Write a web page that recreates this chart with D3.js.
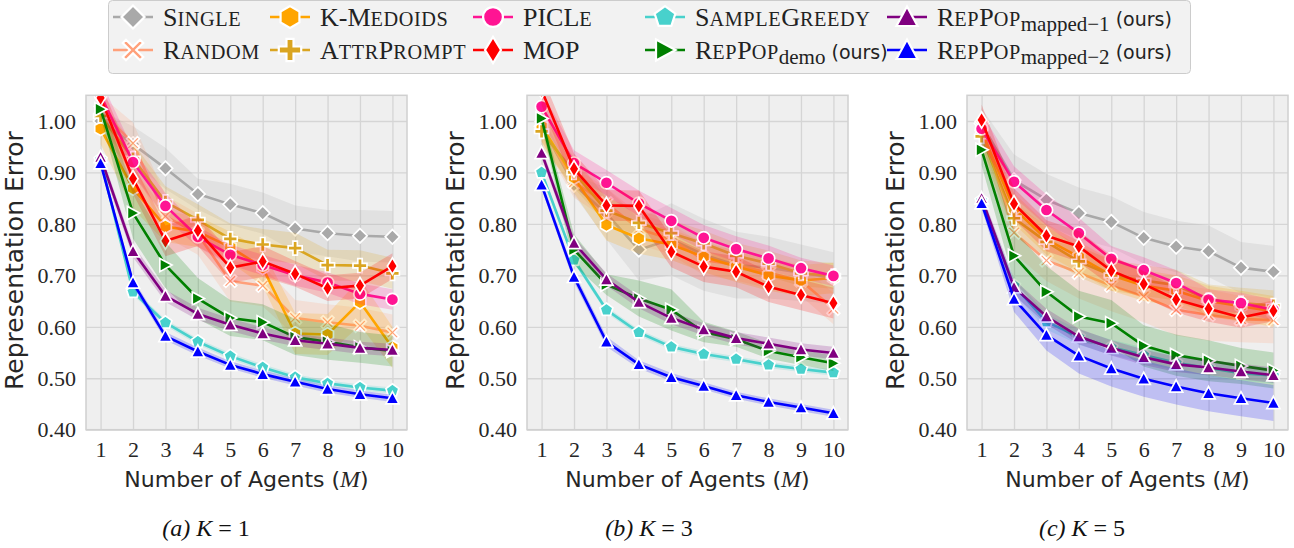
<!DOCTYPE html>
<html>
<head>
<meta charset="utf-8">
<script src="https://cdn.jsdelivr.net/npm/d3@7"></script>
<style>
  body { margin: 0; background: #ffffff; }
  svg { display: block; }
</style>
</head>
<body>
<svg id="chart" width="1294" height="548"></svg>
<script>
// ---------- data ----------
const AGENTS = [1, 2, 3, 4, 5, 6, 7, 8, 9, 10];
const Y_TICKS = [0.40, 0.50, 0.60, 0.70, 0.80, 0.90, 1.00];
const PANEL_LETTERS = ["(a)", "(b)", "(c)"];
const PANEL_K = [1, 3, 5];

// K = 1
const K1_SINGLE   = [1.000, 0.955, 0.908, 0.858, 0.838, 0.821, 0.791, 0.782, 0.777, 0.775];
const K1_RANDOM   = [1.020, 0.957, 0.815, 0.780, 0.689, 0.680, 0.617, 0.609, 0.602, 0.589];
const K1_KMEDOIDS = [0.985, 0.869, 0.795, 0.785, 0.755, 0.715, 0.587, 0.585, 0.648, 0.560];
const K1_ATTR     = [1.010, 0.927, 0.843, 0.808, 0.771, 0.760, 0.753, 0.720, 0.719, 0.704];
const K1_PICLE    = [1.050, 0.920, 0.835, 0.775, 0.740, 0.720, 0.700, 0.686, 0.664, 0.653];
const K1_MOP      = [1.045, 0.888, 0.767, 0.787, 0.715, 0.727, 0.703, 0.675, 0.680, 0.718];
const K1_SGREEDY  = [0.925, 0.668, 0.608, 0.571, 0.543, 0.521, 0.502, 0.490, 0.482, 0.476];
const K1_DEMO     = [1.023, 0.821, 0.720, 0.655, 0.617, 0.609, 0.580, 0.571, 0.560, 0.553];
const K1_MAPPED1  = [0.930, 0.747, 0.660, 0.625, 0.604, 0.587, 0.574, 0.567, 0.559, 0.555];
const K1_MAPPED2  = [0.918, 0.686, 0.582, 0.552, 0.526, 0.508, 0.493, 0.479, 0.469, 0.461];

const K1_SINGLE_CI   = [0.020, 0.035, 0.040, 0.030, 0.040, 0.040, 0.045, 0.045, 0.050, 0.050];
const K1_RANDOM_CI   = [0.030, 0.040, 0.040, 0.040, 0.040, 0.040, 0.035, 0.035, 0.035, 0.035];
const K1_KMEDOIDS_CI = [0.030, 0.040, 0.030, 0.030, 0.030, 0.035, 0.040, 0.040, 0.045, 0.040];
const K1_ATTR_CI     = [0.030, 0.030, 0.030, 0.030, 0.030, 0.030, 0.030, 0.030, 0.030, 0.030];
const K1_PICLE_CI    = [0.030, 0.025, 0.025, 0.020, 0.020, 0.020, 0.020, 0.020, 0.020, 0.020];
const K1_MOP_CI      = [0.030, 0.030, 0.030, 0.030, 0.030, 0.030, 0.025, 0.025, 0.025, 0.025];
const K1_SGREEDY_CI  = [0.006, 0.006, 0.006, 0.006, 0.006, 0.006, 0.006, 0.006, 0.006, 0.006];
const K1_DEMO_CI     = [0.015, 0.050, 0.045, 0.040, 0.035, 0.035, 0.035, 0.035, 0.030, 0.030];
const K1_MAPPED1_CI  = [0.010, 0.012, 0.012, 0.012, 0.012, 0.012, 0.012, 0.012, 0.012, 0.012];
const K1_MAPPED2_CI  = [0.006, 0.008, 0.008, 0.008, 0.007, 0.007, 0.007, 0.007, 0.007, 0.007];

// K = 3
const K3_SINGLE   = [0.990, 0.876, 0.820, 0.750, 0.770, 0.740, 0.720, 0.715, 0.705, 0.695];
const K3_RANDOM   = [0.990, 0.881, 0.840, 0.790, 0.770, 0.730, 0.720, 0.705, 0.690, 0.635];
const K3_KMEDOIDS = [0.990, 0.890, 0.798, 0.772, 0.760, 0.736, 0.717, 0.700, 0.690, 0.695];
const K3_ATTR     = [0.980, 0.900, 0.826, 0.802, 0.782, 0.762, 0.738, 0.723, 0.704, 0.699];
const K3_PICLE    = [1.028, 0.918, 0.880, 0.840, 0.806, 0.773, 0.751, 0.733, 0.714, 0.699];
const K3_MOP      = [1.060, 0.907, 0.836, 0.835, 0.746, 0.717, 0.707, 0.678, 0.662, 0.646];
const K3_SGREEDY  = [0.900, 0.730, 0.633, 0.589, 0.561, 0.547, 0.537, 0.526, 0.518, 0.511];
const K3_DEMO     = [1.005, 0.750, 0.682, 0.655, 0.633, 0.590, 0.576, 0.553, 0.541, 0.529];
const K3_MAPPED1  = [0.938, 0.763, 0.692, 0.648, 0.617, 0.595, 0.578, 0.567, 0.556, 0.549];
const K3_MAPPED2  = [0.876, 0.697, 0.571, 0.527, 0.502, 0.485, 0.467, 0.454, 0.443, 0.432];

const K3_SINGLE_CI   = [0.020, 0.020, 0.050, 0.060, 0.070, 0.070, 0.065, 0.060, 0.055, 0.050];
const K3_RANDOM_CI   = [0.030, 0.030, 0.030, 0.030, 0.030, 0.030, 0.030, 0.030, 0.030, 0.030];
const K3_KMEDOIDS_CI = [0.030, 0.030, 0.030, 0.030, 0.030, 0.030, 0.030, 0.030, 0.030, 0.030];
const K3_ATTR_CI     = [0.030, 0.030, 0.025, 0.025, 0.025, 0.025, 0.025, 0.025, 0.025, 0.025];
const K3_PICLE_CI    = [0.030, 0.025, 0.025, 0.025, 0.025, 0.025, 0.025, 0.025, 0.020, 0.020];
const K3_MOP_CI      = [0.030, 0.030, 0.030, 0.030, 0.030, 0.030, 0.030, 0.030, 0.030, 0.030];
const K3_SGREEDY_CI  = [0.006, 0.006, 0.006, 0.006, 0.006, 0.006, 0.006, 0.006, 0.006, 0.006];
const K3_DEMO_CI     = [0.015, 0.030, 0.020, 0.035, 0.040, 0.020, 0.015, 0.015, 0.015, 0.015];
const K3_MAPPED1_CI  = [0.010, 0.012, 0.012, 0.012, 0.012, 0.012, 0.012, 0.012, 0.012, 0.012];
const K3_MAPPED2_CI  = [0.008, 0.010, 0.010, 0.008, 0.008, 0.007, 0.007, 0.007, 0.007, 0.007];

// K = 5
const K5_SINGLE   = [0.995, 0.885, 0.847, 0.821, 0.804, 0.773, 0.756, 0.747, 0.715, 0.707];
const K5_RANDOM   = [0.990, 0.783, 0.729, 0.705, 0.680, 0.659, 0.633, 0.623, 0.615, 0.613];
const K5_KMEDOIDS = [0.980, 0.830, 0.770, 0.736, 0.700, 0.680, 0.670, 0.650, 0.640, 0.630];
const K5_ATTR     = [0.970, 0.811, 0.765, 0.727, 0.700, 0.690, 0.681, 0.652, 0.646, 0.641];
const K5_PICLE    = [0.985, 0.882, 0.827, 0.782, 0.732, 0.710, 0.685, 0.653, 0.646, 0.633];
const K5_MOP      = [1.002, 0.839, 0.777, 0.756, 0.709, 0.683, 0.653, 0.635, 0.618, 0.631];
const K5_SGREEDY  = [0.845, 0.680, 0.610, 0.580, 0.560, 0.545, 0.530, 0.520, 0.510, 0.505];
const K5_DEMO     = [0.944, 0.738, 0.668, 0.620, 0.607, 0.563, 0.545, 0.534, 0.524, 0.515];
const K5_MAPPED1  = [0.850, 0.677, 0.620, 0.581, 0.559, 0.541, 0.527, 0.521, 0.513, 0.506];
const K5_MAPPED2  = [0.840, 0.654, 0.584, 0.544, 0.519, 0.499, 0.484, 0.471, 0.461, 0.452];

const K5_SINGLE_CI   = [0.030, 0.050, 0.050, 0.050, 0.050, 0.050, 0.050, 0.050, 0.050, 0.050];
const K5_RANDOM_CI   = [0.030, 0.040, 0.040, 0.050, 0.050, 0.050, 0.050, 0.050, 0.045, 0.045];
const K5_KMEDOIDS_CI = [0.030, 0.030, 0.030, 0.030, 0.030, 0.030, 0.030, 0.030, 0.030, 0.030];
const K5_ATTR_CI     = [0.030, 0.030, 0.030, 0.030, 0.030, 0.030, 0.030, 0.030, 0.030, 0.030];
const K5_PICLE_CI    = [0.030, 0.030, 0.030, 0.030, 0.025, 0.025, 0.025, 0.020, 0.020, 0.020];
const K5_MOP_CI      = [0.030, 0.030, 0.030, 0.030, 0.030, 0.025, 0.025, 0.025, 0.020, 0.020];
const K5_SGREEDY_CI  = [0.010, 0.015, 0.015, 0.015, 0.015, 0.015, 0.015, 0.015, 0.015, 0.015];
const K5_DEMO_CI     = [0.030, 0.050, 0.050, 0.050, 0.045, 0.040, 0.040, 0.040, 0.035, 0.035];
const K5_MAPPED1_CI  = [0.010, 0.015, 0.015, 0.015, 0.015, 0.015, 0.015, 0.015, 0.015, 0.015];
const K5_MAPPED2_CI  = [0.010, 0.025, 0.030, 0.035, 0.035, 0.035, 0.035, 0.035, 0.035, 0.035];

// series order (drawing order) and their look
const SERIES_KEYS    = ["single", "random", "kmedoids", "attr", "picle", "mop", "sgreedy", "demo", "mapped1", "mapped2"];
const SERIES_COLORS  = ["#a9a9a9", "#ffa07a", "#ffa500", "#daa520", "#ff1493", "#ff0000", "#48d1cc", "#008000", "#800080", "#0000ff"];
const SERIES_MARKERS = ["D", "X", "h", "P", "o", "d", "p", ">", "^", "^"];

const PANEL_MEANS = [
  [K1_SINGLE, K1_RANDOM, K1_KMEDOIDS, K1_ATTR, K1_PICLE, K1_MOP, K1_SGREEDY, K1_DEMO, K1_MAPPED1, K1_MAPPED2],
  [K3_SINGLE, K3_RANDOM, K3_KMEDOIDS, K3_ATTR, K3_PICLE, K3_MOP, K3_SGREEDY, K3_DEMO, K3_MAPPED1, K3_MAPPED2],
  [K5_SINGLE, K5_RANDOM, K5_KMEDOIDS, K5_ATTR, K5_PICLE, K5_MOP, K5_SGREEDY, K5_DEMO, K5_MAPPED1, K5_MAPPED2]
];
const PANEL_CIS = [
  [K1_SINGLE_CI, K1_RANDOM_CI, K1_KMEDOIDS_CI, K1_ATTR_CI, K1_PICLE_CI, K1_MOP_CI, K1_SGREEDY_CI, K1_DEMO_CI, K1_MAPPED1_CI, K1_MAPPED2_CI],
  [K3_SINGLE_CI, K3_RANDOM_CI, K3_KMEDOIDS_CI, K3_ATTR_CI, K3_PICLE_CI, K3_MOP_CI, K3_SGREEDY_CI, K3_DEMO_CI, K3_MAPPED1_CI, K3_MAPPED2_CI],
  [K5_SINGLE_CI, K5_RANDOM_CI, K5_KMEDOIDS_CI, K5_ATTR_CI, K5_PICLE_CI, K5_MOP_CI, K5_SGREEDY_CI, K5_DEMO_CI, K5_MAPPED1_CI, K5_MAPPED2_CI]
];

// ---------- layout ----------
const SERIF = "'Liberation Serif', 'Times New Roman', serif";
const SANS = "'DejaVu Sans', 'Noto Sans', sans-serif";
const PANEL_LEFTS = [86, 527, 967];
const PANEL_W = 321;
const PLOT_TOP = 95.3, PLOT_BOTTOM = 429.7;
const CAPTION_X = [206, 649, 1082];

const svg = d3.select("#chart");

// ---------- marker shapes ----------
function polygon(n, r, rot) {
  const pts = d3.range(n).map(i => {
    const a = rot + i * 2 * Math.PI / n;
    return [r * Math.cos(a), r * Math.sin(a)];
  });
  return "M" + pts.map(p => p[0].toFixed(2) + "," + p[1].toFixed(2)).join("L") + "Z";
}
function markerPath(type, s) {
  switch (type) {
    case "D": { const r = 7.2 * s; return `M0,${-r}L${r},0L0,${r}L${-r},0Z`; }
    case "d": { const r = 8.2 * s, w = 5.0 * s; return `M0,${-r}L${w},0L0,${r}L${-w},0Z`; }
    case "o": { const r = 6.2 * s; return `M${r},0A${r},${r} 0 1,1 ${-r},0A${r},${r} 0 1,1 ${r},0Z`; }
    case "h": return polygon(6, 6.8 * s, -Math.PI / 2);
    case "p": return polygon(5, 6.8 * s, -Math.PI / 2);
    case "^": { const r = 6.6 * s; return `M0,${-r}L${r},${0.85 * r}L${-r},${0.85 * r}Z`; }
    case ">": { const r = 6.6 * s; return `M${r},0L${-0.85 * r},${-r}L${-0.85 * r},${r}Z`; }
    case "X": {
      const r = 6.4 * s, t = 2.0 * s;
      const pts = [[0, -t], [r - t, -r], [r, -r + t], [t, 0], [r, r - t], [r - t, r], [0, t], [-r + t, r], [-r, r - t], [-t, 0], [-r, -r + t], [-r + t, -r]];
      return "M" + pts.map(p => p.join(",")).join("L") + "Z";
    }
    case "P": {
      const r = 7.0 * s, t = 2.2 * s;
      const pts = [[-t, -r], [t, -r], [t, -t], [r, -t], [r, t], [t, t], [t, r], [-t, r], [-t, t], [-r, t], [-r, -t], [-t, -t]];
      return "M" + pts.map(p => p.join(",")).join("L") + "Z";
    }
  }
}

// small caps: lower-case runs are drawn as reduced capitals
function appendSmallCaps(textSel, str, size) {
  const runs = [];
  for (const ch of str) {
    const small = ch !== ch.toUpperCase();
    if (runs.length && runs[runs.length - 1].small === small) runs[runs.length - 1].s += ch;
    else runs.push({ small, s: ch });
  }
  runs.forEach(r => {
    const sp = textSel.append("tspan").text(r.small ? r.s.toUpperCase() : r.s);
    if (r.small) sp.attr("font-size", size * 0.78).attr("letter-spacing", 0.6);
    else sp.attr("font-size", size);
  });
}

// ---------- panels ----------
const x = d3.scaleLinear().domain([0.55, 10.45]);
const y = d3.scaleLinear().domain([0.40, 1.05]).range([PLOT_BOTTOM, PLOT_TOP]);

PANEL_MEANS.forEach((means, pi) => {
  const left = PANEL_LEFTS[pi];
  const xs = x.copy().range([left, left + PANEL_W]);
  const g = svg.append("g");

  const clipId = "clip" + pi;
  svg.append("clipPath").attr("id", clipId)
    .append("rect").attr("x", left).attr("y", PLOT_TOP)
    .attr("width", PANEL_W).attr("height", PLOT_BOTTOM - PLOT_TOP);

  // background
  g.append("rect").attr("x", left).attr("y", PLOT_TOP)
    .attr("width", PANEL_W).attr("height", PLOT_BOTTOM - PLOT_TOP)
    .attr("fill", "#efefef");

  // grid via axes
  g.append("g").attr("transform", `translate(0,${PLOT_BOTTOM})`)
    .call(d3.axisBottom(xs).tickValues(AGENTS).tickSize(-(PLOT_BOTTOM - PLOT_TOP)).tickFormat(""))
    .call(a => a.select(".domain").remove())
    .call(a => a.selectAll("line").attr("stroke", "#d5d5d5").attr("stroke-width", 1.3));
  g.append("g").attr("transform", `translate(${left},0)`)
    .call(d3.axisLeft(y).tickValues(Y_TICKS).tickSize(-PANEL_W).tickFormat(""))
    .call(a => a.select(".domain").remove())
    .call(a => a.selectAll("line").attr("stroke", "#d5d5d5").attr("stroke-width", 1.3));

  // tick labels
  g.append("g").attr("transform", `translate(0,${PLOT_BOTTOM})`)
    .call(d3.axisBottom(xs).tickValues(AGENTS).tickSize(0).tickPadding(0).tickFormat(d3.format("d")))
    .call(a => a.select(".domain").remove())
    .call(a => a.selectAll("text").attr("font-family", SERIF).attr("font-size", 22)
      .attr("fill", "#262626").attr("y", 27.5).attr("dy", 0));
  g.append("g").attr("transform", `translate(${left},0)`)
    .call(d3.axisLeft(y).tickValues(Y_TICKS).tickSize(0).tickPadding(0).tickFormat(d3.format(".2f")))
    .call(a => a.select(".domain").remove())
    .call(a => a.selectAll("text").attr("font-family", SERIF).attr("font-size", 22)
      .attr("fill", "#262626").attr("x", -10).attr("dy", "0.33em"));

  // data layers
  const dg = g.append("g").attr("clip-path", `url(#${clipId})`);
  means.forEach((vals, si) => {
    const ci = PANEL_CIS[pi][si];
    const color = SERIES_COLORS[si];
    const pts = AGENTS.map((a, i) => ({ a, v: vals[i], lo: vals[i] - ci[i], hi: vals[i] + ci[i] }));
    const sg = dg.append("g").attr("class", "series-" + SERIES_KEYS[si]);
    sg.append("path").datum(pts)
      .attr("d", d3.area().x(d => xs(d.a)).y0(d => y(d.lo)).y1(d => y(d.hi)))
      .attr("fill", color).attr("fill-opacity", 0.2).attr("stroke", "none");
    sg.append("path").datum(pts)
      .attr("d", d3.line().x(d => xs(d.a)).y(d => y(d.v)))
      .attr("fill", "none").attr("stroke", color).attr("stroke-width", 2.6)
      .attr("stroke-linejoin", "round").attr("stroke-linecap", "round");
    sg.selectAll("path.mk").data(pts).join("path").attr("class", "mk")
      .attr("transform", d => `translate(${xs(d.a)},${y(d.v)})`)
      .attr("d", markerPath(SERIES_MARKERS[si], 1))
      .attr("fill", color).attr("stroke", "#ffffff").attr("stroke-width", 1.7)
      .attr("stroke-linejoin", "miter");
  });

  // frame
  g.append("rect").attr("x", left).attr("y", PLOT_TOP)
    .attr("width", PANEL_W).attr("height", PLOT_BOTTOM - PLOT_TOP)
    .attr("fill", "none").attr("stroke", "#d0d0d0").attr("stroke-width", 1.5);

  // axis titles
  const xt = g.append("text").attr("x", left + PANEL_W / 2).attr("y", 487)
    .attr("text-anchor", "middle").attr("font-family", SANS).attr("font-size", 22).attr("fill", "#262626");
  xt.append("tspan").text("Number of Agents (");
  xt.append("tspan").attr("font-family", SERIF).attr("font-style", "italic").attr("font-size", 24).text("M");
  xt.append("tspan").text(")");

  g.append("text")
    .attr("transform", `translate(${left - 63},${(PLOT_TOP + PLOT_BOTTOM) / 2 - 2}) rotate(-90)`)
    .attr("text-anchor", "middle").attr("font-family", SANS).attr("font-size", 25).attr("fill", "#262626")
    .text("Representation Error");

  // caption
  const cap = svg.append("text").attr("x", CAPTION_X[pi]).attr("y", 536)
    .attr("text-anchor", "middle").attr("font-family", SERIF).attr("font-size", 24).attr("fill", "#111");
  cap.append("tspan").attr("font-style", "italic").text(PANEL_LETTERS[pi] + " ");
  cap.append("tspan").attr("font-style", "italic").text("K");
  cap.append("tspan").text(" = " + PANEL_K[pi]);
});

// ---------- legend ----------
const LEGEND_COL_X = [133, 290, 493, 665, 907];
const LEGEND_ROW_Y = [17, 50];
// column-major placement, same order as the series list
const LEGEND_LABELS = [
  [{ t: "Single", sc: true }],
  [{ t: "Random", sc: true }],
  [{ t: "K-Medoids", sc: true }],
  [{ t: "AttrPrompt", sc: true }],
  [{ t: "PICLe", sc: true }],
  [{ t: "MOP", sc: true }],
  [{ t: "SampleGreedy", sc: true }],
  [{ t: "RepPop", sc: true }, { t: "demo", sub: true }, { t: " (ours)", sans: true }],
  [{ t: "RepPop", sc: true }, { t: "mapped\u22121", sub: true }, { t: " (ours)", sans: true }],
  [{ t: "RepPop", sc: true }, { t: "mapped\u22122", sub: true }, { t: " (ours)", sans: true }]
];
const LEGEND_FONT = 26;

const lg = svg.append("g");
lg.append("rect").attr("x", 108.5).attr("y", 0.5).attr("width", 1082).attr("height", 73)
  .attr("rx", 4).attr("fill", "#f2f2f2").attr("stroke", "#cccccc").attr("stroke-width", 1);

SERIES_KEYS.forEach((key, si) => {
  const cx = LEGEND_COL_X[Math.floor(si / 2)];
  const cy = LEGEND_ROW_Y[si % 2];
  const color = SERIES_COLORS[si];
  lg.append("line").attr("x1", cx - 20).attr("x2", cx + 20).attr("y1", cy).attr("y2", cy)
    .attr("stroke", color).attr("stroke-width", 2.6);
  lg.append("path").attr("transform", `translate(${cx},${cy})`)
    .attr("d", markerPath(SERIES_MARKERS[si], 1.6))
    .attr("fill", color).attr("stroke", "#ffffff").attr("stroke-width", 2.2);
  const txt = lg.append("text").attr("x", cx + 30).attr("y", cy + 9)
    .attr("font-family", SERIF).attr("font-size", LEGEND_FONT).attr("fill", "#222");
  LEGEND_LABELS[si].forEach(part => {
    if (part.sc) appendSmallCaps(txt, part.t, LEGEND_FONT);
    else if (part.sub) txt.append("tspan").attr("font-size", 21).attr("dy", 5).text(part.t);
    else if (part.sans) txt.append("tspan").attr("font-family", SANS).attr("font-size", 19).attr("dy", -5).text(part.t);
  });
});
</script>
</body>
</html>
